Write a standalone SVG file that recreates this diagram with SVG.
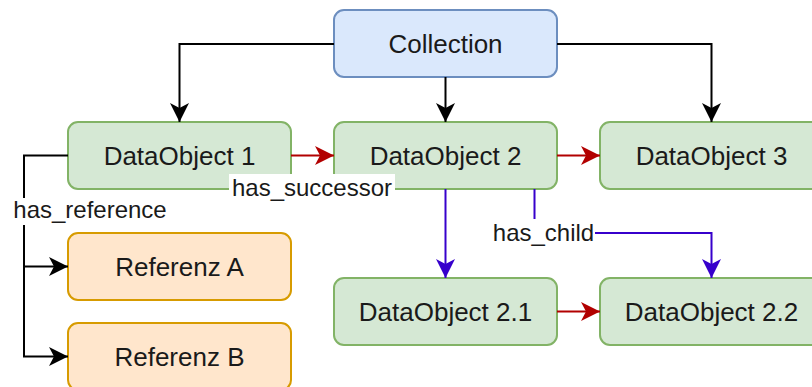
<svg xmlns="http://www.w3.org/2000/svg" width="812" height="387" viewBox="0 0 812 387">
  <style>
    .node rect { stroke-width: 2; }
    .blue rect { fill: #dae8fc; stroke: #6c8ebf; }
    .green rect { fill: #d5e8d4; stroke: #82b366; }
    .orange rect { fill: #ffe6cc; stroke: #d79b00; }
    .node text { font-family: "Liberation Sans", Arial, sans-serif; font-size: 26px; fill: #1a1a1a; text-anchor: middle; }
    .edge { fill: none; stroke-width: 2; }
    .black { stroke: #000000; }
    .red { stroke: #b20000; }
    .violet { stroke: #3700cc; }
    .label rect { fill: #ffffff; }
    .label text { font-family: "Liberation Sans", Arial, sans-serif; font-size: 24px; fill: #1a1a1a; text-anchor: middle; }
  </style>
  <defs>
    <marker id="arrow-black" markerUnits="userSpaceOnUse" markerWidth="20" markerHeight="20" refX="19" refY="10" orient="auto" viewBox="0 0 20 20">
      <path d="M0,0.5 L19,10 L0,19.5 L5,10 Z" fill="#000000"/>
    </marker>
    <marker id="arrow-red" markerUnits="userSpaceOnUse" markerWidth="20" markerHeight="20" refX="19" refY="10" orient="auto" viewBox="0 0 20 20">
      <path d="M0,0.5 L19,10 L0,19.5 L5,10 Z" fill="#b20000"/>
    </marker>
    <marker id="arrow-violet" markerUnits="userSpaceOnUse" markerWidth="20" markerHeight="20" refX="19" refY="10" orient="auto" viewBox="0 0 20 20">
      <path d="M0,0.5 L19,10 L0,19.5 L5,10 Z" fill="#3700cc"/>
    </marker>
  </defs>

  <rect width="812" height="387" fill="#ffffff"/>

  <!-- nodes -->
  <g id="collection" class="node blue">
    <rect x="334" y="10" width="223" height="67" rx="10"/>
    <text x="445.5" y="53">Collection</text>
  </g>
  <g id="dataobject-1" class="node green">
    <rect x="68" y="122" width="223" height="67" rx="10"/>
    <text x="179.5" y="165">DataObject 1</text>
  </g>
  <g id="dataobject-2" class="node green">
    <rect x="334" y="122" width="223" height="67" rx="10"/>
    <text x="445.5" y="165">DataObject 2</text>
  </g>
  <g id="dataobject-3" class="node green">
    <rect x="600" y="122" width="223" height="67" rx="10"/>
    <text x="711.5" y="165">DataObject 3</text>
  </g>
  <g id="referenz-a" class="node orange">
    <rect x="68" y="233" width="223" height="67" rx="10"/>
    <text x="179.5" y="276">Referenz A</text>
  </g>
  <g id="referenz-b" class="node orange">
    <rect x="68" y="323" width="223" height="67" rx="10"/>
    <text x="179.5" y="366">Referenz B</text>
  </g>
  <g id="dataobject-2-1" class="node green">
    <rect x="334" y="278" width="223" height="67" rx="10"/>
    <text x="445.5" y="321">DataObject 2.1</text>
  </g>
  <g id="dataobject-2-2" class="node green">
    <rect x="600" y="278" width="223" height="67" rx="10"/>
    <text x="711.5" y="321">DataObject 2.2</text>
  </g>

  <!-- connectors -->
  <g id="connectors">
    <path class="edge black" d="M334,44 H179.5 V122" marker-end="url(#arrow-black)"/>
    <path class="edge black" d="M445.5,77 V122" marker-end="url(#arrow-black)"/>
    <path class="edge black" d="M557,44 H711.5 V122" marker-end="url(#arrow-black)"/>
    <path class="edge red" d="M291,155.5 H334" marker-end="url(#arrow-red)"/>
    <path class="edge red" d="M557,155.5 H600" marker-end="url(#arrow-red)"/>
    <path class="edge red" d="M557,311.5 H600" marker-end="url(#arrow-red)"/>
    <path class="edge violet" d="M445.5,189 V278" marker-end="url(#arrow-violet)"/>
    <path class="edge violet" d="M534.5,189 V233 H711.5 V278" marker-end="url(#arrow-violet)"/>
    <path class="edge black" d="M68,155.5 H24 V266.5 H68" marker-end="url(#arrow-black)"/>
    <path class="edge black" d="M24,266.5 V356.5 H68" marker-end="url(#arrow-black)"/>

    <!-- edge labels -->
    <g class="label">
      <rect x="229" y="174" width="166" height="27"/>
      <text x="312" y="196">has_successor</text>
    </g>
    <g class="label">
      <rect x="10" y="198" width="160" height="27"/>
      <text x="90" y="218">has_reference</text>
    </g>
    <g class="label">
      <rect x="492" y="219" width="103" height="27"/>
      <text x="543.5" y="241">has_child</text>
    </g>
  </g>
</svg>
